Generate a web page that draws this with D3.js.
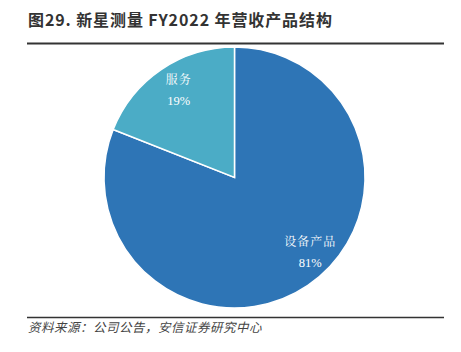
<!DOCTYPE html>
<html>
<head>
<meta charset="utf-8">
<script src="https://cdn.jsdelivr.net/npm/d3@7"></script>
<style>
  body { margin: 0; background: #fff; }
  svg { display: block; }
</style>
</head>
<body>
<div id="chart"></div>
<script>
// Data
const categories = ["设备产品", "服务"];
const shares = [81, 19];
const colors = ["#2E75B6", "#4BACC6"];

const width = 461;
const height = 352;
const cx = 234.5, cy = 177.5, radius = 130.5;
// label nudges to match the original placement
const labelNudge = [[17, -13], [3, -2]];

const svg = d3.select("#chart").append("svg")
    .attr("width", width)
    .attr("height", height);

// Title and rules
svg.append("text")
    .attr("x", 28)
    .attr("y", 26)
    .attr("font-family", "Noto Sans CJK SC, sans-serif")
    .attr("font-size", 16)
    .attr("font-weight", "bold")
    .attr("letter-spacing", 0.9)
    .attr("fill", "#333")
    .text("图29. 新星测量 FY2022 年营收产品结构");

svg.append("line")
    .attr("x1", 27).attr("x2", 444)
    .attr("y1", 43.5).attr("y2", 43.5)
    .attr("stroke", "#333").attr("stroke-width", 2);

svg.append("line")
    .attr("x1", 27).attr("x2", 444)
    .attr("y1", 317.5).attr("y2", 317.5)
    .attr("stroke", "#333").attr("stroke-width", 1.5);

svg.append("text")
    .attr("x", 28)
    .attr("y", 332)
    .attr("font-family", "Noto Sans CJK SC, sans-serif")
    .attr("font-size", 12.5)
    .attr("font-style", "italic")
    .attr("letter-spacing", 0.5)
    .attr("fill", "#444")
    .text("资料来源：公司公告，安信证券研究中心");

// Pie
const pie = d3.pie().sort(null).value(d => d);
const arc = d3.arc().innerRadius(0).outerRadius(radius);
const labelArc = d3.arc().innerRadius(radius * 0.8).outerRadius(radius * 0.8);

const g = svg.append("g").attr("transform", `translate(${cx}, ${cy})`);
const arcs = pie(shares);

g.selectAll("path")
    .data(arcs)
    .join("path")
    .attr("d", arc)
    .attr("fill", (d, i) => colors[i])
    .attr("stroke", "#fff")
    .attr("stroke-width", 1.5);

// Labels: name on top, percent below
const labels = g.selectAll("g.label")
    .data(arcs)
    .join("g")
    .attr("class", "label")
    .attr("transform", (d, i) => {
        const [x, y] = labelArc.centroid(d);
        return `translate(${x + labelNudge[i][0]}, ${y + labelNudge[i][1]})`;
    });

labels.append("text")
    .attr("text-anchor", "middle")
    .attr("y", -5)
    .attr("font-family", "Noto Serif CJK SC, Noto Sans CJK SC, serif")
    .attr("font-size", 12)
    .attr("letter-spacing", 1)
    .attr("fill", "#fff")
    .text((d, i) => categories[i]);

labels.append("text")
    .attr("text-anchor", "middle")
    .attr("y", 16)
    .attr("font-family", "Liberation Serif, serif")
    .attr("font-size", 12.5)
    .attr("fill", "#fff")
    .text(d => d.data + "%");
</script>
</body>
</html>
